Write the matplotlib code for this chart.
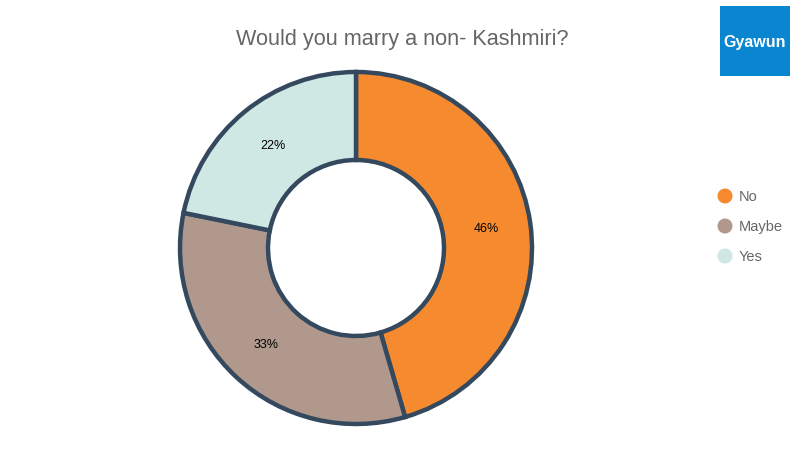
import matplotlib
matplotlib.use("Agg")
import matplotlib.pyplot as plt
from matplotlib.patches import Circle, Rectangle

plt.rcParams['font.family'] = ['Liberation Sans', 'DejaVu Sans']

categories = ["No", "Maybe", "Yes"]
values = [45.5, 32.7, 21.8]
colors = ["#f58b2e", "#b0998c", "#cfe8e3"]
title = "Would you marry a non- Kashmiri?"
logo_text = "Gyawun"

fig = plt.figure(figsize=(8, 4.5), dpi=100)
ax = fig.add_axes([0, 0, 1, 1])

wedges, texts, autotexts = ax.pie(
    values, colors=colors, startangle=90, counterclock=False,
    center=(356, 202), radius=176,
    autopct=lambda p: f"{round(p)}%", pctdistance=0.75,
    wedgeprops=dict(width=88, edgecolor="#34495e", linewidth=3.2),
    textprops=dict(fontsize=9, color="#000000"),
)

ax.set_xlim(0, 800)
ax.set_ylim(0, 450)
ax.set_aspect("equal")
ax.axis("off")

ax.text(402, 410, title, ha="center", va="center", fontsize=15.6, color="#666666")

# logo
ax.add_patch(Rectangle((720, 374), 70, 70, facecolor="#0a86d0", edgecolor="none"))
ax.text(755, 408, logo_text, ha="center", va="center", fontsize=11.5,
        fontweight="bold", color="white")

# legend
for i, (cat, col) in enumerate(zip(categories, colors)):
    y = 254 - 30 * i
    ax.add_patch(Circle((725, y), 7.5, facecolor=col, edgecolor="none"))
    ax.text(739, y - 1, cat, ha="left", va="center", fontsize=10.5, color="#666666")

fig.savefig("out.png", dpi=100)
